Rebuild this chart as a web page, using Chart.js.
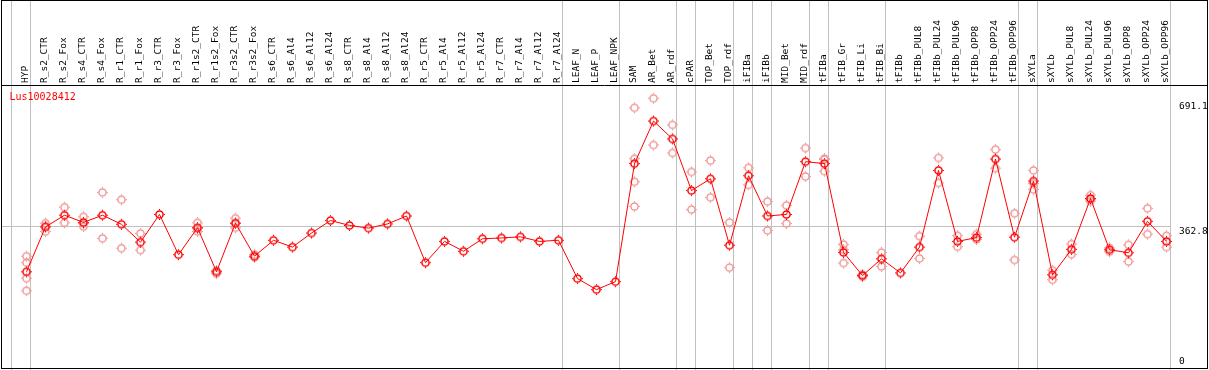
<!DOCTYPE html>
<html>
<head>
<meta charset="utf-8">
<script src="https://cdn.jsdelivr.net/npm/chart.js@4.4.1/dist/chart.umd.min.js"></script>
<style>
  body { margin: 0; background: #fff; }
  canvas { display: block; }
</style>
</head>
<body>
<canvas id="chart" width="1209" height="370"></canvas>
<script>
// sample names along the top
const categories = ['HYP', 'R_s2_CTR', 'R_s2_Fox', 'R_s4_CTR', 'R_s4_Fox', 'R_r1_CTR', 'R_r1_Fox', 'R_r3_CTR', 'R_r3_Fox',
  'R_r1s2_CTR', 'R_r1s2_Fox', 'R_r3s2_CTR', 'R_r3s2_Fox', 'R_s6_CTR', 'R_s6_Al4', 'R_s6_Al12', 'R_s6_Al24',
  'R_s8_CTR', 'R_s8_Al4', 'R_s8_Al12', 'R_s8_Al24', 'R_r5_CTR', 'R_r5_Al4', 'R_r5_Al12', 'R_r5_Al24',
  'R_r7_CTR', 'R_r7_Al4', 'R_r7_Al12', 'R_r7_Al24', 'LEAF_N', 'LEAF_P', 'LEAF_NPK', 'SAM', 'AR_Bet', 'AR_rdf',
  'cPAR', 'TOP_Bet', 'TOP_rdf', 'iFIBa', 'iFIBb', 'MID_Bet', 'MID_rdf', 'tFIBa', 'tFIB_Gr', 'tFIB_Li', 'tFIB_Bi',
  'tFIBb', 'tFIBb_PUL8', 'tFIBb_PUL24', 'tFIBb_PUL96', 'tFIBb_OPP8', 'tFIBb_OPP24', 'tFIBb_OPP96',
  'sXYLa', 'sXYLb', 'sXYLb_PUL8', 'sXYLb_PUL24', 'sXYLb_PUL96', 'sXYLb_OPP8', 'sXYLb_OPP24', 'sXYLb_OPP96'];

// mean expression per sample
const means = [243, 361, 392, 373, 392, 368, 321, 394, 288, 359, 243, 371, 284,
  326, 308, 345, 378, 365, 358, 369, 390, 267, 323, 297, 330, 332, 335, 323, 326,
  225, 196, 217, 528, 640, 593, 457, 488, 313, 496, 390, 394, 533, 528,
  294, 233, 277, 240, 308, 510, 323, 333, 540, 334, 482, 235, 302, 436, 301, 293, 376, 323];

// replicate values per sample (empty = single sample)
const replicates = [[284, 267, 226, 193], [371, 363, 349], [413, 372], [388, 370, 362], [452, 331],
  [433, 305], [344, 300], [], [], [372, 357, 349], [246, 238], [384, 371, 359], [288, 281],
  [], [], [], [], [], [], [], [], [], [], [], [], [], [], [], [], [], [], [],
  [675, 541, 480, 415], [700, 577], [630, 556], [506, 407], [536, 439], [373, 254], [517, 472],
  [428, 352], [418, 370], [569, 494], [541, 539, 508], [315, 301, 266], [236, 230], [294, 257],
  [], [337, 278], [543, 477], [338, 309], [342, 328], [565, 516], [397, 274],
  [510, 476, 460], [247, 222], [316, 289], [445, 434, 429], [306, 296], [314, 270], [410, 342], [338, 308]];

// right-hand value labels
const yLabels = [691.1, 362.8, 0];
// group separators, in category units
const separators = [-0.84, 0.2, 28.2, 31.2, 34.2, 35.2, 37.2, 38.2, 39.2, 41.2, 42.2, 45.2, 52.2, 53.2, 60.2];
const geneName = 'Lus10028412';

function marker(color) {
  const c = document.createElement('canvas');
  c.width = 15; c.height = 15;
  const g = c.getContext('2d');
  g.strokeStyle = color;
  g.fillStyle = color;
  g.lineWidth = 1.5;
  g.beginPath();
  g.arc(7.5, 7.5, 3.6, 0, Math.PI * 2);
  g.stroke();
  g.fillRect(7, 2, 1, 1);
  g.fillRect(7, 12, 1, 1);
  g.fillRect(2, 7, 1, 1);
  g.fillRect(12, 7, 1, 1);
  return c;
}

const repPoints = [];
replicates.forEach((vals, i) => {
  vals.forEach(v => repPoints.push({ x: categories[i], y: v }));
});

const decor = {
  id: 'decor',
  beforeDraw(chart) {
    const ctx = chart.ctx;
    ctx.save();
    ctx.fillStyle = '#fff';
    ctx.fillRect(0, 0, chart.width, chart.height);
    ctx.restore();
  },
  beforeDatasetsDraw(chart) {
    const ctx = chart.ctx;
    const xs = chart.scales.x, ys = chart.scales.y;
    ctx.save();
    ctx.strokeStyle = '#c0c0c0';
    ctx.lineWidth = 1;
    let lastX = 0;
    separators.forEach(p => {
      const x = Math.round(xs.getPixelForValue(p)) + 0.5;
      lastX = x;
      ctx.beginPath();
      ctx.moveTo(x, 0);
      ctx.lineTo(x, chart.height);
      ctx.stroke();
    });
    const hy = Math.round(ys.getPixelForValue(362.8)) + 0.5;
    ctx.beginPath();
    ctx.moveTo(1, hy);
    ctx.lineTo(lastX, hy);
    ctx.stroke();

    // frame
    ctx.strokeStyle = '#000';
    ctx.strokeRect(1.5, 0.5, 1206, 368);
    const ty = Math.round(chart.chartArea.top) + 0.5;
    ctx.beginPath();
    ctx.moveTo(1, ty);
    ctx.lineTo(1208, ty);
    ctx.stroke();
    ctx.restore();
  },
  afterDraw(chart) {
    const ctx = chart.ctx;
    const ys = chart.scales.y;
    ctx.save();
    ctx.font = '9.5px "DejaVu Sans Mono"';
    ctx.fillStyle = '#000';
    ctx.textBaseline = 'middle';
    ctx.textAlign = 'left';
    yLabels.forEach(v => {
      const y = Math.min(ys.getPixelForValue(v) + 5, chart.height - 8);
      ctx.fillText(String(v), 1179, y);
    });
    ctx.font = '10px "DejaVu Sans Mono"';
    ctx.fillStyle = '#ff0000';
    ctx.fillText(geneName, 9.5, chart.chartArea.top + 12);
    ctx.restore();
  }
};

new Chart(document.getElementById('chart'), {
  type: 'line',
  data: {
    labels: categories,
    datasets: [{
      data: means,
      borderColor: '#ff0000',
      borderWidth: 1,
      pointStyle: marker('#ff0000'),
      pointRadius: 5,
      order: 0
    }, {
      data: repPoints,
      showLine: false,
      borderColor: '#f09898',
      pointStyle: marker('#f09898'),
      pointRadius: 5,
      order: 1
    }]
  },
  options: {
    responsive: false,
    animation: false,
    devicePixelRatio: 1,
    layout: { padding: { left: 17, right: 0, top: 0, bottom: 4 } },
    plugins: { legend: { display: false }, tooltip: { enabled: false } },
    scales: {
      x: {
        position: 'top',
        offset: true,
        grid: { display: false, drawTicks: false },
        border: { display: false },
        ticks: {
          autoSkip: false,
          minRotation: 90,
          maxRotation: 90,
          padding: 2,
          labelOffset: 10,
          color: '#000',
          font: { family: 'DejaVu Sans Mono', size: 9.5 }
        },
        afterFit(scale) { scale.height = 85; }
      },
      y: {
        position: 'right',
        min: 0,
        max: 735,
        grid: { display: false },
        border: { display: false },
        ticks: { display: false },
        afterFit(scale) { scale.width = 33; }
      }
    }
  },
  plugins: [decor]
});
</script>
</body>
</html>
